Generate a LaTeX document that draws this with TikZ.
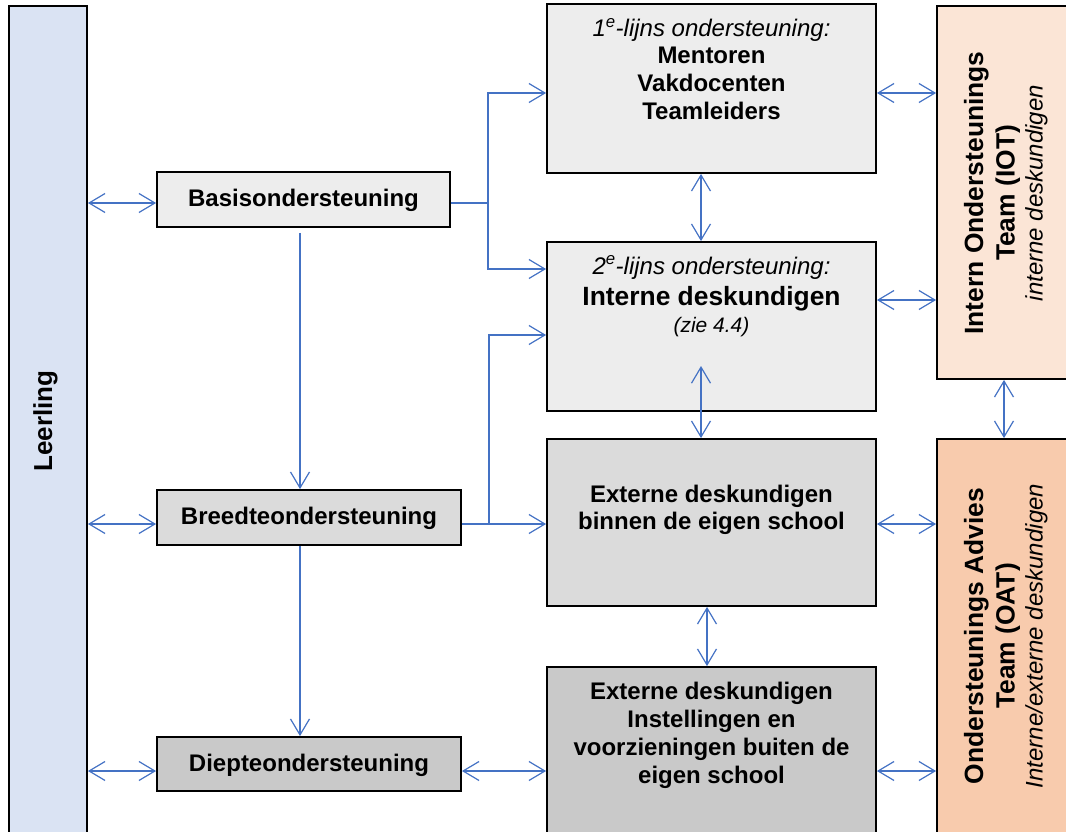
\documentclass[tikz,border=0pt]{standalone}
\usepackage{fontspec}
\setmainfont{Liberation Sans}
\usetikzlibrary{arrows.meta}
\definecolor{arrowblue}{HTML}{4472C4}
\definecolor{leerblue}{HTML}{DAE3F3}
\definecolor{grayA}{HTML}{EDEDED}
\definecolor{grayB}{HTML}{DBDBDB}
\definecolor{grayC}{HTML}{C9C9C9}
\definecolor{peachA}{HTML}{FBE5D6}
\definecolor{peachB}{HTML}{F8CBAD}
\newcommand{\fsz}[1]{\fontsize{#1}{#1}\selectfont}
\begin{document}
\begin{tikzpicture}[x=1pt,y=-1pt,
  box/.style={draw=black, line width=1.8pt, inner sep=0pt, rectangle},
  lbl/.style={anchor=base, inner sep=0pt, font=\bfseries\fsz{24}},
  biglbl/.style={anchor=base, inner sep=0pt, font=\bfseries\fsz{26.4}},
  ilbl/.style={anchor=base, inner sep=0pt, font=\itshape\fsz{24}},
  conn/.style={draw=arrowblue, line width=1.2pt, >={Straight Barb[length=16pt,width=19pt]}}]
\useasboundingbox (0,0) rectangle (1066,832);
\clip (0,0) rectangle (1066,832);

% boxes
\node[box, fill=leerblue, minimum width=78pt, minimum height=844pt] (leer) at (48,428) {};
\node[box, fill=grayA, minimum width=293pt, minimum height=55pt] (basis) at (303.5,199.5) {};
\node[box, fill=grayB, minimum width=304pt, minimum height=55pt] (breed) at (309,517.5) {};
\node[box, fill=grayC, minimum width=304pt, minimum height=54pt] (diep) at (309,764) {};
\node[box, fill=grayA, minimum width=329pt, minimum height=169pt] (b1) at (711.5,88.5) {};
\node[box, fill=grayA, minimum width=329pt, minimum height=169pt] (b2) at (711.5,326.5) {};
\node[box, fill=grayB, minimum width=329pt, minimum height=167pt] (e1) at (711.5,522.5) {};
\node[box, fill=grayC, minimum width=329pt, minimum height=183pt] (e2) at (711.5,758.5) {};
\node[box, fill=peachA, minimum width=143pt, minimum height=373pt] (iot) at (1008.5,192.5) {};
\node[box, fill=peachB, minimum width=143pt, minimum height=411pt] (oat) at (1008.5,644.5) {};

% texts
\node[lbl, font=\bfseries\fsz{26}, rotate=90] (tLeer) at (52,421) {Leerling};
\node[lbl] (tBasis) at (303.5,207) {Basisondersteuning};
\node[lbl] (tBreed) at (309,524) {Breedteondersteuning};
\node[lbl] (tDiep) at (309,771) {Diepteondersteuning};

\node[ilbl] (tB1a) at (711.5,36.5) {1\textsuperscript{e}-lijns ondersteuning:};
\node[lbl] (tB1b) at (711.5,64) {Mentoren};
\node[lbl] (tB1c) at (711.5,92) {Vakdocenten};
\node[lbl] (tB1d) at (711.5,120) {Teamleiders};

\node[ilbl] (tB2a) at (711.5,274) {2\textsuperscript{e}-lijns ondersteuning:};
\node[biglbl] (tB2b) at (711.5,305) {Interne deskundigen};
\node[ilbl, font=\itshape\fsz{21}] (tB2c) at (711.5,332) {(zie 4.4)};

\node[lbl] (tE1a) at (711.5,502) {Externe deskundigen};
\node[lbl] (tE1b) at (711.5,529) {binnen de eigen school};

\node[lbl] (tE2a) at (711.5,699) {Externe deskundigen};
\node[lbl] (tE2b) at (711.5,727) {Instellingen en};
\node[lbl] (tE2c) at (711.5,755) {voorzieningen buiten de};
\node[lbl] (tE2d) at (711.5,783) {eigen school};

\node[biglbl, rotate=90] (tIOTa) at (983,193) {Intern Ondersteunings};
\node[biglbl, rotate=90] (tIOTb) at (1014.5,193) {Team (IOT)};
\node[ilbl, rotate=90] (tIOTc) at (1042.5,193) {interne deskundigen};

\node[biglbl, rotate=90] (tOATa) at (983,636) {Ondersteunings Advies};
\node[biglbl, rotate=90] (tOATb) at (1014.5,636) {Team (OAT)};
\node[ilbl, rotate=90] (tOATc) at (1042.5,636) {Interne/externe deskundigen};

% helper coordinates
\coordinate (yBasis) at (0,203);
\coordinate (yBreed) at (0,524);
\coordinate (yDiep) at (0,771);
\coordinate (yB1) at (0,93);
\coordinate (yB2a) at (0,269);
\coordinate (yB2b) at (0,335);
\coordinate (yB2r) at (0,300);
\coordinate (xSplitA) at (488,0);
\coordinate (xSplitB) at (489,0);
\coordinate (xDown) at (300,0);
\coordinate (xMid) at (701,0);
\coordinate (xMid2) at (707,0);
\coordinate (xRight) at (1004,0);
\coordinate (inB2) at (701,366);

% connectors
\draw[conn,<->] (leer.east |- yBasis) -- (basis.west |- yBasis);
\draw[conn,<->] (leer.east |- yBreed) -- (breed.west |- yBreed);
\draw[conn,<->] (leer.east |- yDiep) -- (diep.west |- yDiep);
\draw[conn,->] (basis.east |- yBasis) -| (xSplitA |- yB1) -- (b1.west |- yB1);
\draw[conn,->] (xSplitA |- yBasis) |- (b2.west |- yB2a);
\draw[conn,->] (breed.east |- yBreed) -- (e1.west |- yBreed);
\draw[conn,->] (xSplitB |- yBreed) |- (b2.west |- yB2b);
\draw[conn,->,shorten <=5pt] (xDown |- basis.south) -- (xDown |- breed.north);
\draw[conn,->] (xDown |- breed.south) -- (xDown |- diep.north);
\draw[conn,<->] (diep.east |- yDiep) -- (e2.west |- yDiep);
\draw[conn,<->] (xMid |- b1.south) -- (xMid |- b2.north);
\draw[conn,<->] (inB2) -- (xMid |- e1.north);
\draw[conn,<->] (xMid2 |- e1.south) -- (xMid2 |- e2.north);
\draw[conn,<->] (b1.east |- yB1) -- (iot.west |- yB1);
\draw[conn,<->] (b2.east |- yB2r) -- (iot.west |- yB2r);
\draw[conn,<->] (e1.east |- yBreed) -- (oat.west |- yBreed);
\draw[conn,<->] (e2.east |- yDiep) -- (oat.west |- yDiep);
\draw[conn,<->] (xRight |- iot.south) -- (xRight |- oat.north);
\end{tikzpicture}
\end{document}
